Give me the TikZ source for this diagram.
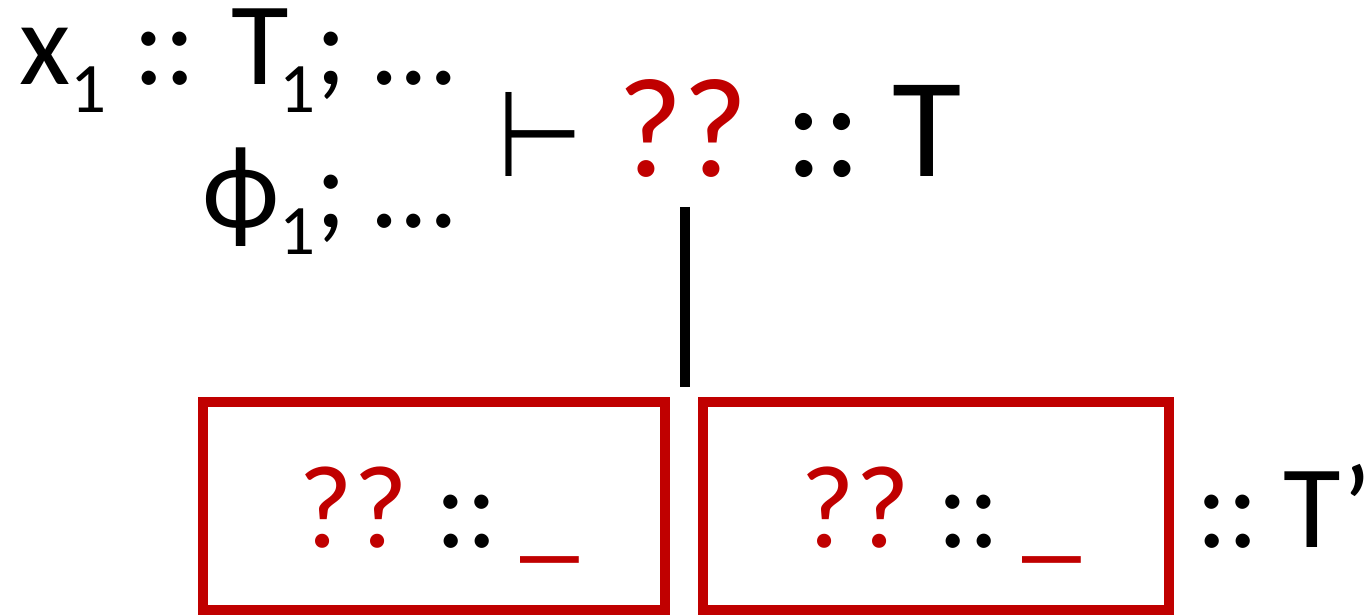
\documentclass[tikz,border=0pt]{standalone}
\usepackage{fontspec}
\setmainfont{Carlito}
\newfontfamily\djv{DejaVu Sans}
\usetikzlibrary{calc}
\definecolor{holered}{HTML}{C00000}
\newcommand\sbs[1]{\raisebox{-28pt}{\fontsize{71pt}{71pt}\selectfont #1}}
\newcommand\hl[1]{\textcolor{holered}{#1}}
\begin{document}
\begin{tikzpicture}[x=1pt,y=-1pt,
  txt/.style={inner sep=0pt, outer sep=0pt, font=\fontsize{118pt}{118pt}\selectfont},
  big/.style={inner sep=0pt, outer sep=0pt, font=\fontsize{142pt}{142pt}\selectfont},
  redbox/.style={draw=holered, line width=10pt, inner sep=0pt, outer sep=0pt,
    font=\fontsize{118pt}{118pt}\selectfont, text height=100pt, text depth=18pt},
  stem/.style={line width=10pt}]
\useasboundingbox (0,0) rectangle (1369,615);
\node[txt, anchor=base east, text height=80pt] (ctx1) at (455,85) {x\sbs{1} :: T\kern-10pt\sbs{1}; …};
\node[txt, anchor=base east] (ctx2) at (455,227) {ϕ\sbs{1}; …};
\node[big, anchor=base west] (vdash) at (497,177) {\scalebox{0.82}[1]{\fontsize{120pt}{120pt}\selectfont\djv ⊢}};
\node[big, anchor=base west, text=holered] (hole) at (617,177) {??};
\node[big, anchor=base west] (goal) at (785,177) {::\hspace{0.22em}T};
\node[redbox, minimum width=462pt, minimum height=208pt] (box1) at (434,506) {\hspace*{10pt}\hl{??}\hspace{27pt}::\hspace{22pt}\hl{\_}};
\node[redbox, minimum width=466pt, minimum height=208pt] (box2) at (936,506) {\hspace*{10pt}\hl{??}\hspace{27pt}::\hspace{22pt}\hl{\_}};
\node[txt, anchor=base west] (tp) at (1196,547) {::\hspace{24pt}T\kern2pt’};
\draw[stem] ($(hole.south)+(2,29)$) -- ($(hole.south |- box1.north)+(2,-15)$);
\end{tikzpicture}
\end{document}
